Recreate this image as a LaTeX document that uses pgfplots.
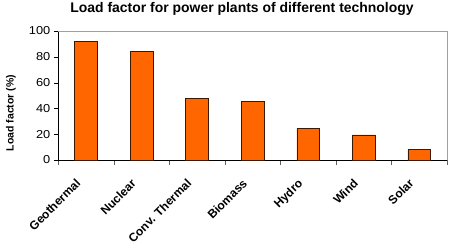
\documentclass[border=0pt]{standalone}
\usepackage{fontspec}
\setmainfont{Liberation Sans}
\newfontfamily\tickfont[FakeStretch=1.12]{Liberation Sans}
\usepackage{pgfplots}
\pgfplotsset{compat=1.18}
\definecolor{barfill}{HTML}{FF6600}
\definecolor{barline}{HTML}{3C1900}
\definecolor{framegray}{HTML}{A0A0A0}
\begin{document}
\begin{tikzpicture}[x=1bp,y=1bp]
\useasboundingbox (0,0) rectangle (454,249);
\begin{axis}[
  at={(58.3bp,89bp)}, anchor=south west,
  scale only axis, width=388.7bp, height=129bp,
  clip=false,
  ybar, bar width=22.7bp,
  ymin=0, ymax=100, ytick={0,20,...,100},
  xmin=-0.5, xmax=6.5,
  xtick={-0.5,0.5,...,6.5},
  xticklabels={},
  extra x ticks={0,1,2,3,4,5,6},
  extra x tick labels={Geothermal, Nuclear, Conv. Thermal, Biomass, Hydro, Wind, Solar},
  extra x tick style={major tick length=0pt,
    xticklabel style={xshift=-11bp, yshift=-18bp, rotate=45, anchor=north east, font=\bfseries\fontsize{12}{14}\selectfont, inner sep=0pt}},
  axis x line*=bottom, axis y line*=left,
  axis line style={black, -},
  tick align=outside,
  major tick length=4.5bp,
  xtick style={framegray!60!black},
  ytick style={black},
  /pgf/number format/assume math mode=true,
  yticklabel style={font=\tickfont\fontsize{11.5}{13}\selectfont},
]
\addplot[fill=barfill, draw=barline, line width=0.6bp] coordinates {(0,91.7) (1,84.0) (2,47.8) (3,45.2) (4,24.8) (5,19.4) (6,8.5)};
\draw[framegray, line width=0.8bp] (rel axis cs:0,1) -- (rel axis cs:1,1) -- (rel axis cs:1,0);
\end{axis}
\node[font=\bfseries\fontsize{14}{16}\selectfont, anchor=base] at (242,236.3) {Load factor for power plants of different technology};
\node[rotate=90, anchor=base, font=\bfseries\fontsize{10.5}{12}\selectfont] at (13.5,136) {Load factor (\%)};
\end{tikzpicture}
\end{document}
